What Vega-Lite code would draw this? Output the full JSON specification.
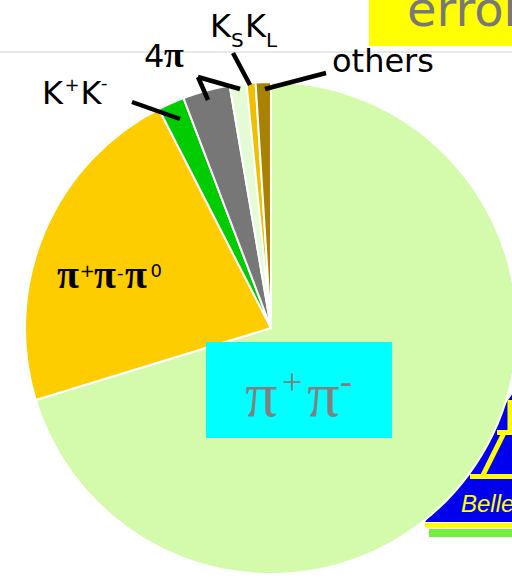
{
  "$schema": "https://vega.github.io/schema/vega-lite/v6.json",
  "width": 482,
  "height": 500,
  "autosize": {"type": "none"},
  "padding": {"left": 30, "top": 78, "right": 0, "bottom": 0},
  "background": "white",
  "config": {"view": {"stroke": null}},
  "layer": [
    {
      "encoding": {
        "x": {"field": "x", "type": "quantitative", "scale": {"domain": [-97.967, 97.967], "nice": false, "zero": false}, "axis": null},
        "y": {"field": "y", "type": "quantitative", "scale": {"domain": [-101.626, 101.626], "nice": false, "zero": false}, "axis": null}
      },
      "layer": [
        {
          "data": {"values": [{"x": -110.2, "x2": 100, "y": 112.2}]},
          "mark": {"type": "rule", "color": "#e8e8e8", "strokeWidth": 2},
          "encoding": {"x2": {"field": "x2"}}
        },
        {
          "data": {"values": [{"x": 39.84, "x2": 100, "y": 134, "y2": 114.63}]},
          "mark": {"type": "rect", "color": "#ffff00"},
          "encoding": {"x2": {"field": "x2"}, "y2": {"field": "y2"}}
        },
        {
          "data": {"values": [{"x": 55.3, "y": 122.76, "t": "error"}]},
          "mark": {"type": "text", "align": "left", "baseline": "alphabetic", "font": "DejaVu Sans", "fontSize": 48, "color": "#787878"},
          "encoding": {"text": {"field": "t"}}
        },
        {
          "data": {"values": [{"x": 62.6, "y": -78.86, "y2": -78.86}, {"x": 100, "y": -24.0, "y2": -78.86}]},
          "mark": {"type": "area", "color": "#0000ee", "orient": "vertical"},
          "encoding": {"y2": {"field": "y2"}}
        },
        {
          "data": {"values": [
            {"x": 62.6, "x2": 100, "y": -80.2, "y2": -80.2},
            {"x": 91.87, "x2": 100, "y": -42.48, "y2": -42.48},
            {"x": 80.89, "x2": 100, "y": -60.37, "y2": -60.37},
            {"x": 85.77, "x2": 94.72, "y": -60.57, "y2": -42.68},
            {"x": 97.15, "x2": 97.15, "y": -29.27, "y2": -42.28}
          ]},
          "mark": {"type": "rule", "color": "#ffff00", "strokeWidth": 5},
          "encoding": {"x2": {"field": "x2"}, "y2": {"field": "y2"}}
        },
        {
          "data": {"values": [{"x": 77.24, "y": -74.8, "t": "Belle"}]},
          "mark": {"type": "text", "align": "left", "baseline": "alphabetic", "font": "Liberation Sans", "fontStyle": "italic", "fontSize": 24, "color": "#ffff00"},
          "encoding": {"text": {"field": "t"}}
        },
        {
          "data": {"values": [{"x": 64.23, "x2": 100, "y": -81.71, "y2": -84.96}]},
          "mark": {"type": "rect", "color": "#74f03c"},
          "encoding": {"x2": {"field": "x2"}, "y2": {"field": "y2"}}
        }
      ]
    },
    {
      "data": {"values": [
        {"idx": 1, "mode": "π⁺π⁻", "pct": 70.3},
        {"idx": 2, "mode": "π⁺π⁻π⁰", "pct": 22.2},
        {"idx": 3, "mode": "K⁺K⁻", "pct": 1.75},
        {"idx": 4, "mode": "2π⁺2π⁻", "pct": 3.1},
        {"idx": 5, "mode": "π⁺π⁻2π⁰", "pct": 1.1},
        {"idx": 6, "mode": "K_S K_L", "pct": 0.59},
        {"idx": 7, "mode": "others", "pct": 1.0}
      ]},
      "mark": {"type": "arc", "outerRadius": 246, "stroke": "white", "strokeWidth": 2},
      "encoding": {
        "theta": {"field": "pct", "type": "quantitative", "stack": true},
        "order": {"field": "idx", "type": "quantitative", "sort": "ascending"},
        "color": {
          "field": "mode", "type": "nominal", "legend": null,
          "scale": {
            "domain": ["π⁺π⁻", "π⁺π⁻π⁰", "K⁺K⁻", "2π⁺2π⁻", "π⁺π⁻2π⁰", "K_S K_L", "others"],
            "range": ["#d4fbab", "#fecd00", "#00cc00", "#777777", "#e4fbd6", "#f0c000", "#a88200"]
          }
        }
      }
    },
    {
      "encoding": {
        "x": {"field": "x", "type": "quantitative", "scale": {"domain": [-97.967, 97.967], "nice": false, "zero": false}, "axis": null},
        "y": {"field": "y", "type": "quantitative", "scale": {"domain": [-101.626, 101.626], "nice": false, "zero": false}, "axis": null}
      },
      "layer": [
        {
          "data": {"values": [{"x": -26.42, "x2": 49.19, "y": -5.69, "y2": -44.72}]},
          "mark": {"type": "rect", "color": "#00ffff"},
          "encoding": {"x2": {"field": "x2"}, "y2": {"field": "y2"}}
        },
        {
          "data": {"values": [{"x": -10.57, "y": -35.77, "t": "π"}, {"x": 14.63, "y": -35.77, "t": "π"}]},
          "mark": {"type": "text", "align": "left", "baseline": "alphabetic", "font": "Liberation Serif", "fontSize": 64, "color": "#808080"},
          "encoding": {"text": {"field": "t"}}
        },
        {
          "data": {"values": [{"x": 4.47, "y": -26.83, "t": "+"}, {"x": 28.05, "y": -26.42, "t": "-"}]},
          "mark": {"type": "text", "align": "left", "baseline": "alphabetic", "font": "Liberation Serif", "fontSize": 36, "color": "#808080"},
          "encoding": {"text": {"field": "t"}}
        },
        {
          "data": {"values": [
            {"x": -56.5, "y": 91.87, "x2": -36.99, "y2": 84.96},
            {"x": -29.67, "y": 102.03, "x2": -25.61, "y2": 92.68},
            {"x": -29.67, "y": 102.03, "x2": -12.6, "y2": 97.15},
            {"x": -15.45, "y": 111.79, "x2": -8.54, "y2": 98.78},
            {"x": -2.44, "y": 97.15, "x2": 22.36, "y2": 103.66}
          ]},
          "mark": {"type": "rule", "color": "black", "strokeWidth": 4.5},
          "encoding": {"x2": {"field": "x2"}, "y2": {"field": "y2"}}
        },
        {
          "data": {"values": [
            {"x": -93.1, "y": 91.26, "t": "K"},
            {"x": -77.4, "y": 91.26, "t": "K"},
            {"x": -51.63, "y": 106.1, "t": "4"},
            {"x": -24.8, "y": 118.29, "t": "K"},
            {"x": -10.57, "y": 118.29, "t": "K"},
            {"x": 24.8, "y": 104.07, "t": "others"}
          ]},
          "mark": {"type": "text", "align": "left", "baseline": "alphabetic", "font": "DejaVu Sans", "fontSize": 32, "color": "black"},
          "encoding": {"text": {"field": "t"}}
        },
        {
          "data": {"values": [
            {"x": -83.9, "y": 96.42, "t": "+"},
            {"x": -69.1, "y": 97.15, "t": "-"},
            {"x": -77.7, "y": 20.73, "t": "+"},
            {"x": -62.6, "y": 19.9, "t": "-"},
            {"x": -49.0, "y": 20.73, "t": "0"}
          ]},
          "mark": {"type": "text", "align": "left", "baseline": "alphabetic", "font": "DejaVu Sans", "fontSize": 18, "color": "black"},
          "encoding": {"text": {"field": "t"}}
        },
        {
          "data": {"values": [
            {"x": -16.3, "y": 114.23, "t": "S"},
            {"x": -2.0, "y": 114.23, "t": "L"}
          ]},
          "mark": {"type": "text", "align": "left", "baseline": "alphabetic", "font": "DejaVu Sans", "fontSize": 20, "color": "black"},
          "encoding": {"text": {"field": "t"}}
        },
        {
          "data": {"values": [
            {"x": -86.99, "y": 16.26, "t": "π"},
            {"x": -71.95, "y": 16.26, "t": "π"},
            {"x": -59.35, "y": 16.26, "t": "π"}
          ]},
          "mark": {"type": "text", "align": "left", "baseline": "alphabetic", "font": "Liberation Serif", "fontWeight": "bold", "fontSize": 40, "color": "black"},
          "encoding": {"text": {"field": "t"}}
        },
        {
          "data": {"values": [
            {"x": -43.5, "y": 106.3, "t": "π"}
          ]},
          "mark": {"type": "text", "align": "left", "baseline": "alphabetic", "font": "Liberation Serif", "fontWeight": "bold", "fontSize": 36, "color": "black"},
          "encoding": {"text": {"field": "t"}}
        }
      ]
    }
  ]
}
